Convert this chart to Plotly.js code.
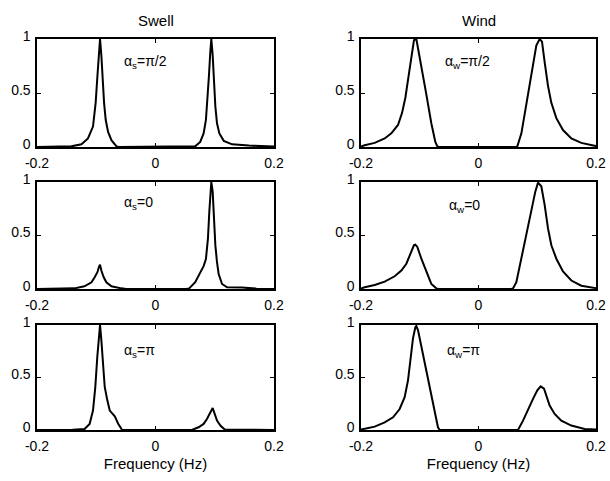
<!DOCTYPE html>
<html>
<head>
<meta charset="utf-8">
<script src="https://cdn.plot.ly/plotly-3.0.1.min.js"></script>
<style>
  html, body { margin: 0; padding: 0; background: #fff; }
  #chart { width: 610px; height: 481px; }
</style>
</head>
<body>
<div id="chart"></div>
<script>
// Directional spectra: swell (left column) and wind sea (right column)
// for three relative wave directions.

const freqTickVals = [-0.2, 0, 0.2];
const freqTickText = ['-0.2', '0', '0.2'];
const psdTickVals = [0, 0.5, 1];
const psdTickText = ['0', '0.5', '1'];

const columnTitles = ['Swell', 'Wind'];
const xAxisTitle = 'Frequency (Hz)';
const panelLabels = [
  'α<sub>s</sub>=π/2', 'α<sub>w</sub>=π/2',
  'α<sub>s</sub>=0',   'α<sub>w</sub>=0',
  'α<sub>s</sub>=π',   'α<sub>w</sub>=π'
];

// Swell, alpha = pi/2
const swellHalfPiF = [-0.2, -0.17, -0.142, -0.125, -0.114, -0.1055, -0.101, -0.098, -0.0953, -0.0936, -0.0914, -0.0885, -0.0868, -0.084, -0.08, -0.0744, -0.0659, -0.062,
  0.062, 0.067, 0.0755, 0.0812, 0.0851, 0.088, 0.0902, 0.0925, 0.0942, 0.0965, 0.0987, 0.101, 0.1038, 0.1078, 0.1152, 0.1293, 0.1576, 0.1915, 0.2];
const swellHalfPiS = [0, 0.002, 0.006, 0.025, 0.079, 0.189, 0.409, 0.66, 0.85, 1.0, 0.85, 0.566, 0.409, 0.25, 0.14, 0.063, 0.006, 0,
  0, 0.006, 0.047, 0.126, 0.25, 0.44, 0.66, 0.88, 1.0, 0.85, 0.6, 0.377, 0.22, 0.126, 0.057, 0.025, 0.013, 0.006, 0.004];

// Swell, alpha = 0
const swellZeroF = [-0.2, -0.137, -0.12, -0.108, -0.1027, -0.098, -0.0953, -0.0936, -0.0914, -0.0874, -0.0829, -0.0744, -0.0574, -0.05,
  0.052, 0.0569, 0.067, 0.0767, 0.0812, 0.0851, 0.0885, 0.0908, 0.0936, 0.0942, 0.0965, 0.0987, 0.101, 0.1038, 0.1066, 0.1123, 0.1208, 0.1463, 0.17, 0.2];
const swellZeroS = [0, 0.006, 0.025, 0.063, 0.11, 0.157, 0.21, 0.226, 0.173, 0.11, 0.063, 0.025, 0.006, 0,
  0, 0.006, 0.063, 0.157, 0.214, 0.28, 0.47, 0.72, 0.97, 1.0, 0.91, 0.63, 0.41, 0.25, 0.14, 0.047, 0.016, 0.013, 0.004, 0];

// Swell, alpha = pi
const swellPiF = [-0.2, -0.14, -0.1197, -0.1112, -0.1055, -0.1016, -0.0982, -0.0953, -0.0936, -0.0914, -0.0885, -0.0857, -0.0812, -0.0772, -0.0687, -0.063, -0.0563,
  0.0614, 0.0727, 0.0812, 0.0868, 0.0925, 0.0965, 0.0999, 0.1038, 0.1095, 0.1168, 0.2];
const swellPiS = [0, 0.002, 0.01, 0.058, 0.185, 0.409, 0.70, 0.92, 1.0, 0.856, 0.569, 0.41, 0.28, 0.185, 0.13, 0.06, 0,
  0, 0.026, 0.058, 0.105, 0.17, 0.21, 0.153, 0.09, 0.042, 0.004, 0];

// Wind, alpha = pi/2
const windHalfPiF = [-0.2, -0.1938, -0.1767, -0.1597, -0.1484, -0.137, -0.1302, -0.1245, -0.1189, -0.1143, -0.1098, -0.1058, -0.0973, -0.0888, -0.0803, -0.0735, -0.0701, -0.068,
  0.064, 0.0661, 0.073, 0.0814, 0.0899, 0.0984, 0.1041, 0.1081, 0.1126, 0.1183, 0.124, 0.1325, 0.1438, 0.158, 0.175, 0.192, 0.2];
const windHalfPiS = [0.005, 0.016, 0.038, 0.079, 0.126, 0.204, 0.314, 0.456, 0.66, 0.849, 0.99, 1.0, 0.755, 0.487, 0.22, 0.047, 0.006, 0,
  0, 0.006, 0.126, 0.409, 0.69, 0.94, 1.0, 0.975, 0.786, 0.566, 0.409, 0.267, 0.157, 0.079, 0.038, 0.016, 0.008];

// Wind, alpha = 0
const windZeroF = [-0.2, -0.1938, -0.1767, -0.1597, -0.1427, -0.1313, -0.1228, -0.1155, -0.1098, -0.1075, -0.1041, -0.0973, -0.0888, -0.0803, -0.0718, -0.069,
  0.056, 0.0587, 0.0644, 0.0729, 0.0814, 0.0899, 0.0967, 0.1013, 0.1069, 0.1126, 0.1183, 0.124, 0.1325, 0.1438, 0.158, 0.175, 0.192, 0.2];
const windZeroS = [0.005, 0.016, 0.038, 0.069, 0.119, 0.173, 0.236, 0.33, 0.41, 0.415, 0.393, 0.283, 0.157, 0.047, 0.006, 0,
  0, 0.004, 0.063, 0.283, 0.503, 0.723, 0.91, 0.994, 0.96, 0.786, 0.566, 0.409, 0.283, 0.164, 0.079, 0.031, 0.013, 0.008];

// Wind, alpha = pi
const windPiF = [-0.2, -0.1938, -0.1767, -0.1597, -0.1455, -0.1342, -0.1257, -0.12, -0.1155, -0.1115, -0.1075, -0.1058, -0.103, -0.0973, -0.0888, -0.0814, -0.0746, -0.069, -0.0661,
  0.0672, 0.0758, 0.0843, 0.0928, 0.1001, 0.1058, 0.1115, 0.1155, 0.1211, 0.1296, 0.141, 0.158, 0.1807, 0.2];
const windPiS = [0.004, 0.01, 0.032, 0.073, 0.121, 0.2, 0.313, 0.473, 0.697, 0.873, 0.978, 0.99, 0.952, 0.792, 0.569, 0.377, 0.185, 0.026, 0,
  0, 0.089, 0.201, 0.297, 0.377, 0.415, 0.393, 0.329, 0.233, 0.153, 0.089, 0.042, 0.01, 0.004];

const series = [
  [swellHalfPiF, swellHalfPiS], [windHalfPiF, windHalfPiS],
  [swellZeroF, swellZeroS],     [windZeroF, windZeroS],
  [swellPiF, swellPiS],         [windPiF, windPiS]
];

const W = 610, H = 481;
const FONT = 'Liberation Sans, Arial, Helvetica, sans-serif';

// panel boxes in pixels: columns [left, right], rows [top, bottom]
const colPx = [[37, 274], [361, 596]];
const rowPx = [[39, 147], [182, 289], [325, 430]];
const labelPos = [[122, 62], [443, 62], [122, 203], [447, 206], [122, 351], [445, 351]];

const traces = [];
const layout = {
  width: W, height: H,
  margin: {l: 0, r: 0, t: 0, b: 0},
  paper_bgcolor: '#fff', plot_bgcolor: '#fff',
  showlegend: false,
  font: {family: FONT, color: '#000', size: 14},
  annotations: []
};

series.forEach(([f, s], i) => {
  const n = i + 1;
  const row = Math.floor(i / 2), col = i % 2;
  const xa = 'xaxis' + (n === 1 ? '' : n), ya = 'yaxis' + (n === 1 ? '' : n);
  const xr = 'x' + (n === 1 ? '' : n), yr = 'y' + (n === 1 ? '' : n);
  traces.push({
    x: f, y: s, xaxis: xr, yaxis: yr,
    type: 'scatter', mode: 'lines',
    line: {color: '#000', width: 2}, cliponaxis: true, hoverinfo: 'skip'
  });
  const common = {
    showline: true, linecolor: '#000', linewidth: 1.6, mirror: 'ticks',
    ticks: 'inside', ticklen: 4, tickwidth: 1, tickcolor: '#000',
    showgrid: false, zeroline: false, fixedrange: true,
    tickfont: {family: FONT, size: 14, color: '#000'}
  };
  layout[xa] = Object.assign({}, common, {
    domain: [colPx[col][0] / W, colPx[col][1] / W],
    range: [-0.2, 0.2], tickmode: 'array', tickvals: freqTickVals, ticktext: freqTickText,
    anchor: yr, ticklabelstandoff: 3
  });
  if (row === 2) {
    layout[xa].title = {text: xAxisTitle, font: {family: FONT, size: 15, color: '#000'}, standoff: 5};
  }
  layout[ya] = Object.assign({}, common, {
    domain: [1 - rowPx[row][1] / H, 1 - rowPx[row][0] / H],
    range: [0, 1], tickmode: 'array', tickvals: psdTickVals, ticktext: psdTickText,
    anchor: xr, ticklabelstandoff: 2, ticklabelshift: -3
  });
  layout.annotations.push({
    xref: 'paper', yref: 'paper',
    x: labelPos[i][0] / W, y: 1 - labelPos[i][1] / H,
    xanchor: 'left', yanchor: 'middle', showarrow: false,
    text: panelLabels[i], font: {family: FONT, size: 14, color: '#000'}
  });
});

columnTitles.forEach((t, c) => {
  layout.annotations.push({
    xref: 'paper', yref: 'paper',
    x: (colPx[c][0] + colPx[c][1]) / 2 / W, y: 1 - 20 / H,
    xanchor: 'center', yanchor: 'middle', showarrow: false,
    text: t, font: {family: FONT, size: 15, color: '#000'}
  });
});

Plotly.newPlot('chart', traces, layout, {staticPlot: true, displayModeBar: false});
</script>
</body>
</html>
